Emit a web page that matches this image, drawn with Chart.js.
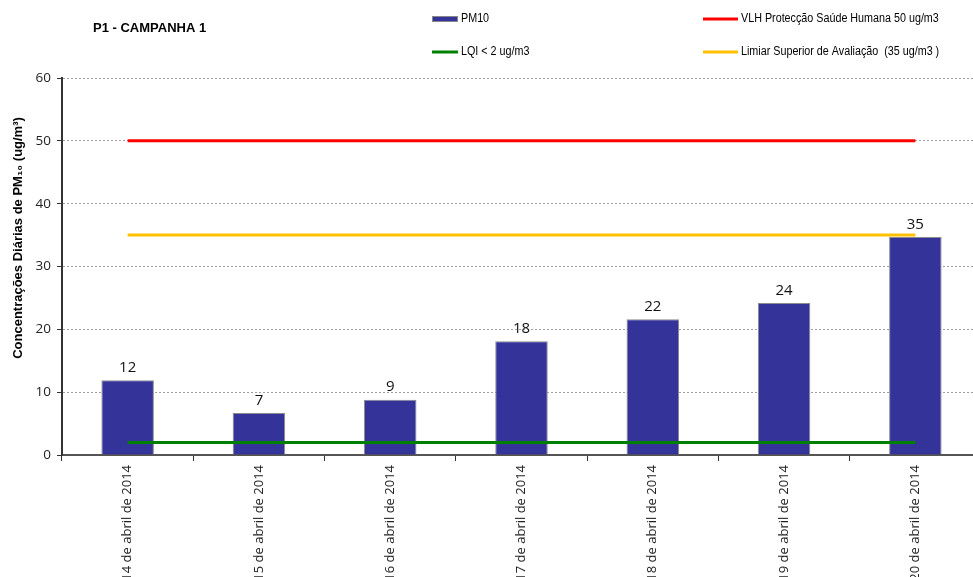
<!DOCTYPE html>
<html>
<head>
<meta charset="utf-8">
<script src="https://cdn.jsdelivr.net/npm/chart.js@4"></script>
<style>
  html, body { margin: 0; padding: 0; background: #fff; overflow: hidden; }
  #wrap { position: relative; width: 981px; height: 577px; }
</style>
</head>
<body>
<div id="wrap"><canvas id="pmChart"></canvas></div>
<script>
// data
const days = ['14 de abril de 2014', '15 de abril de 2014', '16 de abril de 2014', '17 de abril de 2014',
              '18 de abril de 2014', '19 de abril de 2014', '20 de abril de 2014'];
const pm10 = [11.9, 6.7, 8.8, 18.1, 21.6, 24.2, 34.7];
const vlh = [50, 50, 50, 50, 50, 50, 50];
const limiarSuperior = [35, 35, 35, 35, 35, 35, 35];
const lqi = [2, 2, 2, 2, 2, 2, 2];
const yTicks = [0, 10, 20, 30, 40, 50, 60];

const chartTitle = 'P1 - CAMPANHA 1';
const yTitle = 'Concentrações Diárias de PM₁₀ (ug/m³)';
const legendItems = [
    { text: 'PM10', color: '#333399', box: true },
    { text: 'VLH Protecção Saúde Humana 50 ug/m3', color: '#ff0000' },
    { text: 'LQI < 2 ug/m3', color: '#008000' },
    { text: 'Limiar Superior de Avaliação  (35 ug/m3 )', color: '#ffc000' }
];

const sansFont = '"Liberation Sans", Arial, sans-serif';
const mainFont = '"Open Sans", "DejaVu Sans", sans-serif';

// bar value labels, title, legend and rotated y title
const decorations = {
    id: 'decorations',
    afterDatasetsDraw(chart) {
        const ctx = chart.ctx;
        const meta = chart.getDatasetMeta(0);
        ctx.save();
        ctx.fillStyle = '#111';
        ctx.font = '15px ' + mainFont;
        ctx.textAlign = 'center';
        ctx.textBaseline = 'bottom';
        meta.data.forEach((bar, i) => {
            ctx.fillText(String(Math.round(pm10[i])), bar.x, bar.y - 5);
        });
        ctx.restore();
    },
    afterDraw(chart) {
        const ctx = chart.ctx;
        ctx.save();
        // title
        ctx.fillStyle = '#000';
        ctx.font = 'bold 13px ' + sansFont;
        ctx.textAlign = 'left';
        ctx.textBaseline = 'middle';
        ctx.fillText(chartTitle, 93, 28);

        // legend, two columns x two rows
        const cols = [432, 703];
        const rows = [19, 52];
        const markW = [26, 35];
        legendItems.forEach((it, i) => {
            const c = i % 2, r = Math.floor(i / 2);
            const x = cols[c], y = rows[r];
            if (it.box) {
                ctx.fillStyle = it.color;
                ctx.fillRect(x, y - 3, markW[c], 6);
                ctx.strokeStyle = '#888';
                ctx.lineWidth = 1;
                ctx.strokeRect(x + 0.5, y - 2.5, markW[c] - 1, 5);
            } else {
                ctx.strokeStyle = it.color;
                ctx.lineWidth = 3;
                ctx.beginPath();
                ctx.moveTo(x, y);
                ctx.lineTo(x + markW[c], y);
                ctx.stroke();
            }
            // condensed legend text
            ctx.save();
            ctx.translate(x + markW[c] + 3, y);
            ctx.scale(0.86, 1);
            ctx.fillStyle = '#000';
            ctx.font = '12.5px ' + sansFont;
            ctx.fillText(it.text, 0, 0);
            ctx.restore();
        });

        // y axis title
        ctx.translate(18, 238);
        ctx.rotate(-Math.PI / 2);
        ctx.textAlign = 'center';
        ctx.fillStyle = '#000';
        ctx.font = 'bold 13px ' + sansFont;
        ctx.fillText(yTitle, 0, 0);
        ctx.restore();
    }
};

const ctx = document.getElementById('pmChart').getContext('2d');
new Chart(ctx, {
    type: 'bar',
    data: {
        labels: days,
        datasets: [
            { label: 'PM10', data: pm10, backgroundColor: '#333399', borderColor: '#8a8a8a', borderWidth: 1,
              barPercentage: 0.4, categoryPercentage: 1, order: 2 },
            { type: 'line', label: 'VLH Protecção Saúde Humana 50 ug/m3', data: vlh, borderColor: '#ff0000',
              borderWidth: 3, pointRadius: 0, fill: false, order: 1 },
            { type: 'line', label: 'LQI < 2 ug/m3', data: lqi, borderColor: '#008000',
              borderWidth: 3, pointRadius: 0, fill: false, order: 1 },
            { type: 'line', label: 'Limiar Superior de Avaliação  (35 ug/m3 )', data: limiarSuperior, borderColor: '#ffc000',
              borderWidth: 3, pointRadius: 0, fill: false, order: 1 }
        ]
    },
    options: {
        responsive: true,
        maintainAspectRatio: false,
        animation: false,
        layout: { padding: { top: 78, left: 0, right: 0, bottom: 0 } },
        plugins: { legend: { display: false }, tooltip: { enabled: false } },
        scales: {
            x: {
                offset: true,
                grid: { offset: true, drawOnChartArea: false, tickLength: 6, tickColor: '#333', tickWidth: 1 },
                border: { color: '#555', width: 2 },
                ticks: { minRotation: 90, maxRotation: 90, autoSkip: false, padding: 4, color: '#222',
                         font: { family: mainFont, size: 13 } },
                afterFit(scale) { scale.height = 122; }
            },
            y: {
                min: 0, max: 60,
                afterBuildTicks(scale) { scale.ticks = yTicks.map(v => ({ value: v })); },
                grid: { color: '#a0a0a0', lineWidth: 1, tickLength: 5, tickColor: '#333', tickWidth: 1 },
                border: { color: '#333', width: 2, dash: [2, 2] },
                ticks: { padding: 6, color: '#222', font: { family: mainFont, size: 13.5 } },
                afterFit(scale) { scale.width = 62; }
            }
        }
    },
    plugins: [decorations]
});
</script>
</body>
</html>
